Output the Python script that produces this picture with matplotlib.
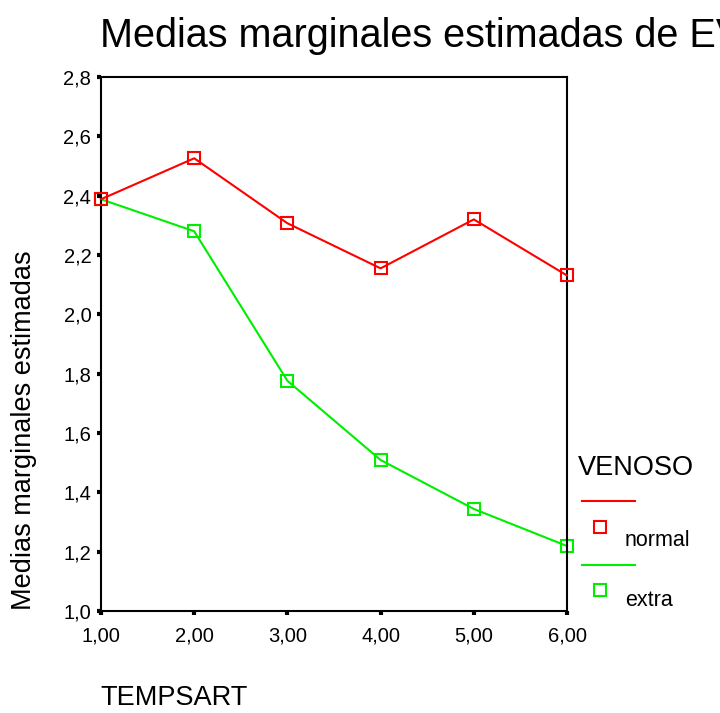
import matplotlib.pyplot as plt
from matplotlib.lines import Line2D

plt.rcParams['font.family'] = ['Liberation Sans', 'DejaVu Sans']

tempsart = [1, 2, 3, 4, 5, 6]
normal = [2.388, 2.526, 2.307, 2.155, 2.320, 2.131]
extra = [2.388, 2.280, 1.776, 1.509, 1.344, 1.219]
xticks = [1, 2, 3, 4, 5, 6]
yticks = [1.0, 1.2, 1.4, 1.6, 1.8, 2.0, 2.2, 2.4, 2.6, 2.8]

W, H = 720, 713
fig = plt.figure(figsize=(W / 100, H / 100), dpi=100)
ax = fig.add_axes([101 / W, 1 - 611 / H, (567 - 101) / W, (611 - 77) / H])

ax.plot(tempsart, normal, color='#ff0000', lw=1.5, marker='s', ms=9,
        mfc='none', mec='#ff0000', mew=1.5, clip_on=False, zorder=3)
ax.plot(tempsart, extra, color='#00ee00', lw=1.5, marker='s', ms=9,
        mfc='none', mec='#00ee00', mew=1.5, clip_on=False, zorder=2)

ax.set_xlim(1, 6)
ax.set_ylim(1.0, 2.8)
ax.set_xticks(xticks)
ax.set_xticklabels([f'{v:.2f}'.replace('.', ',') for v in xticks], fontsize=14.5)
ax.set_yticks(yticks)
ax.set_yticklabels([f'{v:.1f}'.replace('.', ',') for v in yticks], fontsize=14.5)
ax.tick_params(direction='out', length=3, width=3)
ax.tick_params(axis='x', pad=8)
ax.tick_params(axis='y', pad=4)
for s in ax.spines.values():
    s.set_linewidth(1.5)

# title runs past the right edge, as in the original
fig.text(100 / W, 1 - 36 / H, 'Medias marginales estimadas de EV', fontsize=28.5,
         ha='left', va='center')
fig.text(24 / W, 1 - 430 / H, 'Medias marginales estimadas', fontsize=19.5,
         rotation=90, ha='center', va='center')
fig.text(100 / W, 1 - 698 / H, 'TEMPSART', fontsize=19.5, ha='left', va='center')

# legend
fig.text(578 / W, 1 - 468 / H, 'VENOSO', fontsize=19.5, ha='left', va='center')
fig.add_artist(Line2D([582 / W, 635 / W], [1 - 501 / H] * 2, color='#ff0000', lw=1.5))
fig.add_artist(Line2D([600 / W], [1 - 527 / H], marker='s', ms=9, mfc='none',
                      mec='#ff0000', mew=1.5))
fig.text(625 / W, 1 - 540 / H, 'normal', fontsize=15.5, ha='left', va='center')
fig.add_artist(Line2D([582 / W, 635 / W], [1 - 565 / H] * 2, color='#00ee00', lw=1.5))
fig.add_artist(Line2D([600 / W], [1 - 590 / H], marker='s', ms=9, mfc='none',
                      mec='#00ee00', mew=1.5))
fig.text(625 / W, 1 - 601 / H, 'extra', fontsize=15.5, ha='left', va='center')

fig.savefig('out.png', dpi=100)
